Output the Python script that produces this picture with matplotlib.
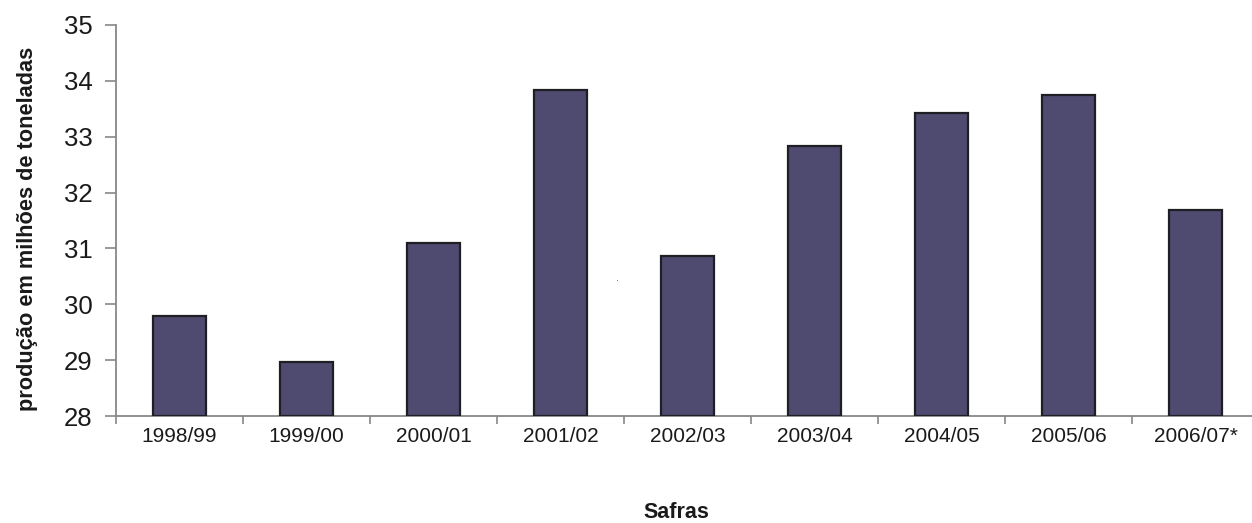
import matplotlib
matplotlib.use("Agg")
import matplotlib.pyplot as plt
import numpy as np

categories = ["1998/99", "1999/00", "2000/01", "2001/02", "2002/03",
              "2003/04", "2004/05", "2005/06", "2006/07*"]
production = [29.79, 28.97, 31.10, 33.83, 30.86, 32.83, 33.43, 33.75, 31.68]
y_ticks = [28, 29, 30, 31, 32, 33, 34, 35]

plt.rcParams['font.family'] = ['Liberation Sans', 'DejaVu Sans']

W, H = 1252, 523
fig = plt.figure(figsize=(W / 100, H / 100), dpi=100)
left, right, top, bottom = 116, 116 + 9 * 127, 25, 416
ax = fig.add_axes([left / W, 1 - bottom / H, (right - left) / W, (bottom - top) / H])

x = np.arange(len(categories))
ax.bar(x, [v - 28 for v in production], bottom=28, width=0.41,
       color="#4F4A70", edgecolor="#1E1E24", linewidth=1.6, zorder=3)

ax.set_xlim(-0.5, len(categories) - 0.5)
ax.set_ylim(28, 35)
ax.set_yticks(y_ticks)
ax.set_yticklabels([str(t) for t in y_ticks], fontsize=18.5, color="#1a1a1a")

ax.set_xticks(x)
ax.set_xticklabels(categories, fontsize=15, color="#1a1a1a")
ax.tick_params(axis='x', which='major', length=0, pad=8)
ax.set_xticks(np.arange(-0.5, len(categories) + 0.5, 1), minor=True)
ax.tick_params(axis='x', which='minor', length=6, width=1.2, color="#888888", direction='out')
ax.tick_params(axis='y', length=8, width=1.2, color="#888888", direction='out', pad=9)

for s in ['top', 'right']:
    ax.spines[s].set_visible(False)
for s in ['left', 'bottom']:
    ax.spines[s].set_color("#888888")
    ax.spines[s].set_linewidth(1.3)

fig.text(28 / W, 1 - 229 / H, "produção em milhões de toneladas", rotation=90,
         ha='center', va='center', fontsize=15.7, fontweight='bold', color="#1a1a1a")
fig.text(676 / W, 1 - 513 / H, "Safras", ha='center', va='center',
         fontsize=15.5, fontweight='bold', color="#1a1a1a")
fig.text(617 / W, 1 - 282 / H, "·", ha='center', va='center', fontsize=6, color="#222222")

fig.savefig("out.png", dpi=100)
